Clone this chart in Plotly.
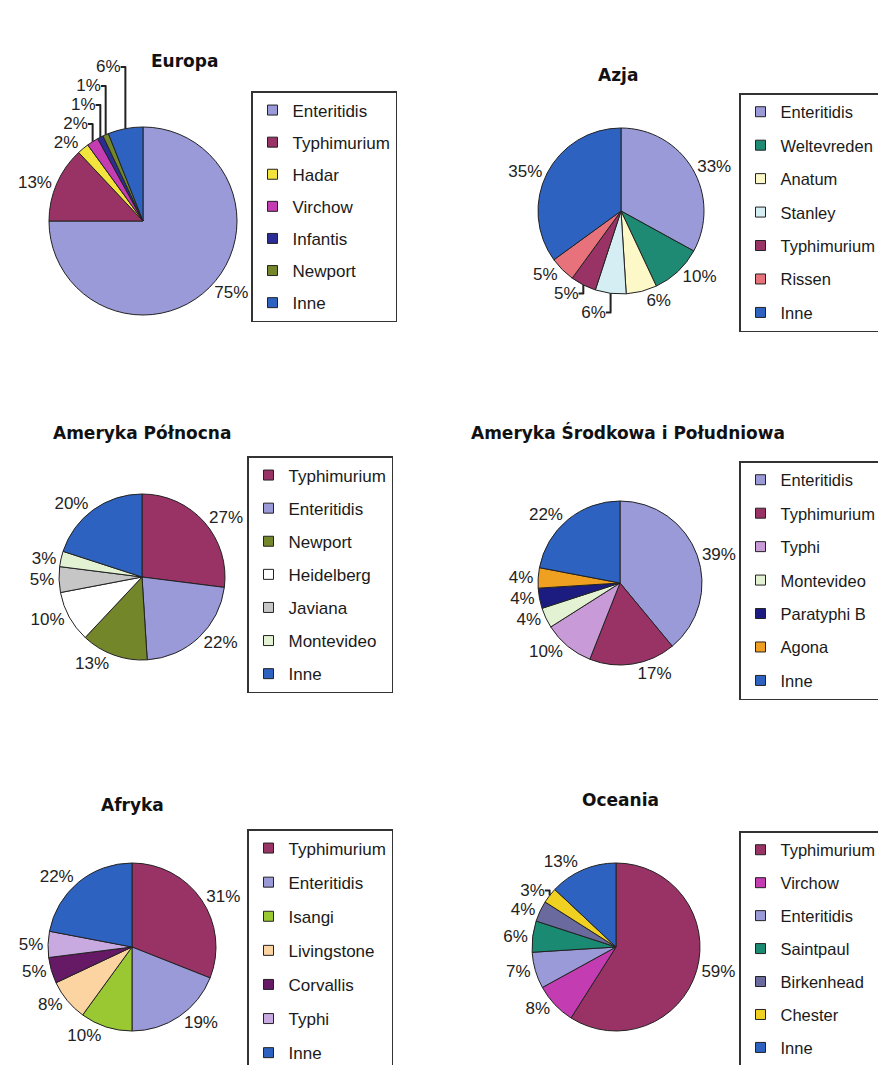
import plotly.graph_objects as go

W, H = 878, 1065

# ---- data: serotype shares (%) by region ----
europa_labels = ["Enteritidis", "Typhimurium", "Hadar", "Virchow", "Infantis", "Newport", "Inne"]
europa_values = [75, 13, 2, 2, 1, 1, 6]

azja_labels = ["Enteritidis", "Weltevreden", "Anatum", "Stanley", "Typhimurium", "Rissen", "Inne"]
azja_values = [33, 10, 6, 6, 5, 5, 35]

am_pn_labels = ["Typhimurium", "Enteritidis", "Newport", "Heidelberg", "Javiana", "Montevideo", "Inne"]
am_pn_values = [27, 22, 13, 10, 5, 3, 20]

am_sp_labels = ["Enteritidis", "Typhimurium", "Typhi", "Montevideo", "Paratyphi B", "Agona", "Inne"]
am_sp_values = [39, 17, 10, 4, 4, 4, 22]

afryka_labels = ["Typhimurium", "Enteritidis", "Isangi", "Livingstone", "Corvallis", "Typhi", "Inne"]
afryka_values = [31, 19, 10, 8, 5, 5, 22]

oceania_labels = ["Typhimurium", "Virchow", "Enteritidis", "Saintpaul", "Birkenhead", "Chester", "Inne"]
oceania_values = [59, 8, 7, 6, 4, 3, 13]

# ---- colours ----
europa_colors = ["#9a9ad8", "#993366", "#f2e43c", "#c43cb2", "#2c2c96", "#74862a", "#2e62c0"]
azja_colors = ["#9a9ad8", "#1f8a73", "#fdf8c8", "#d4eef4", "#993366", "#e8727c", "#2e62c0"]
am_pn_colors = ["#993366", "#9a9ad8", "#74862a", "#ffffff", "#c6c6c6", "#e2f2d2", "#2e62c0"]
am_sp_colors = ["#9a9ad8", "#993366", "#c89ad8", "#e2f2d2", "#1c1c80", "#f0a020", "#2e62c0"]
afryka_colors = ["#993366", "#9a9ad8", "#99c833", "#fcd4a2", "#661a66", "#c8aae0", "#2e62c0"]
oceania_colors = ["#993366", "#c43cb2", "#9a9ad8", "#1a8a72", "#6a6a9e", "#f0d020", "#2e62c0"]

# ---- panel geometry (pixels) ----
panels = [
    # title, labels, values, colors, pie centre/radius, title pos, legend top-left, legend font, legend gap
    ("Europa", europa_labels, europa_values, europa_colors, (143, 221, 94), (184, 61), (251, 91), 17, 7),
    ("Azja", azja_labels, azja_values, azja_colors, (621, 211, 83), (618, 75), (739, 93), 16.5, 9),
    ("Ameryka Północna", am_pn_labels, am_pn_values, am_pn_colors, (142, 577, 83), (142, 433), (247, 456), 17, 8),
    ("Ameryka Środkowa i Południowa", am_sp_labels, am_sp_values, am_sp_colors, (620, 583, 82), (628, 432), (739, 461), 16.5, 9),
    ("Afryka", afryka_labels, afryka_values, afryka_colors, (132, 947, 84), (132, 805), (247, 829), 17, 9),
    ("Oceania", oceania_labels, oceania_values, oceania_colors, (616, 947, 84), (620, 800), (739, 831), 16.5, 8.5),
]

FONT = "Liberation Sans, Arial, sans-serif"

fig = go.Figure()
layout_legends = {}
annotations = []

for i, (title, labels, values, colors, (cx, cy, r), (tx, ty), (lx, ly), lfont, gap) in enumerate(panels):
    legend_id = "legend" if i == 0 else f"legend{i + 1}"
    fig.add_trace(go.Pie(
        labels=labels,
        values=values,
        sort=False,
        direction="clockwise",
        rotation=0,
        textinfo="percent",
        textposition="outside",
        outsidetextfont=dict(family=FONT, size=17, color="#222"),
        marker=dict(colors=colors, line=dict(color="#222", width=1)),
        domain=dict(x=[(cx - r) / W, (cx + r) / W], y=[1 - (cy + r) / H, 1 - (cy - r) / H]),
        showlegend=False,
        hoverinfo="none",
    ))
    # legend entries, one per serotype
    for lab, col in zip(labels, colors):
        fig.add_trace(go.Scatter(
            x=[None], y=[None], mode="markers", name=lab,
            marker=dict(symbol="square", size=10, color=col, line=dict(color="#222", width=1)),
            legend=legend_id, legendgroup=f"{legend_id}-{lab}", showlegend=True,
            hoverinfo="none",
        ))
    layout_legends[legend_id] = dict(
        x=lx / W, y=1 - ly / H, xanchor="left", yanchor="top",
        bgcolor="white", bordercolor="#333", borderwidth=1.5,
        font=dict(family=FONT, size=lfont, color="#1a1a1a"),
        tracegroupgap=gap, traceorder="grouped",
        itemclick=False, itemdoubleclick=False,
    )
    annotations.append(dict(
        text=f"<b>{title}</b>", x=tx / W, y=1 - ty / H, xref="paper", yref="paper",
        xanchor="center", yanchor="middle", showarrow=False,
        font=dict(family="DejaVu Sans, sans-serif", size=17, color="#111"),
    ))

fig.update_layout(
    width=W, height=H,
    margin=dict(l=0, r=0, t=0, b=0, autoexpand=False),
    paper_bgcolor="white", plot_bgcolor="white",
    xaxis=dict(visible=False, domain=[0, 0.001]),
    yaxis=dict(visible=False, domain=[0, 0.001]),
    annotations=annotations,
    **layout_legends,
)

fig.write_html("out.html")
